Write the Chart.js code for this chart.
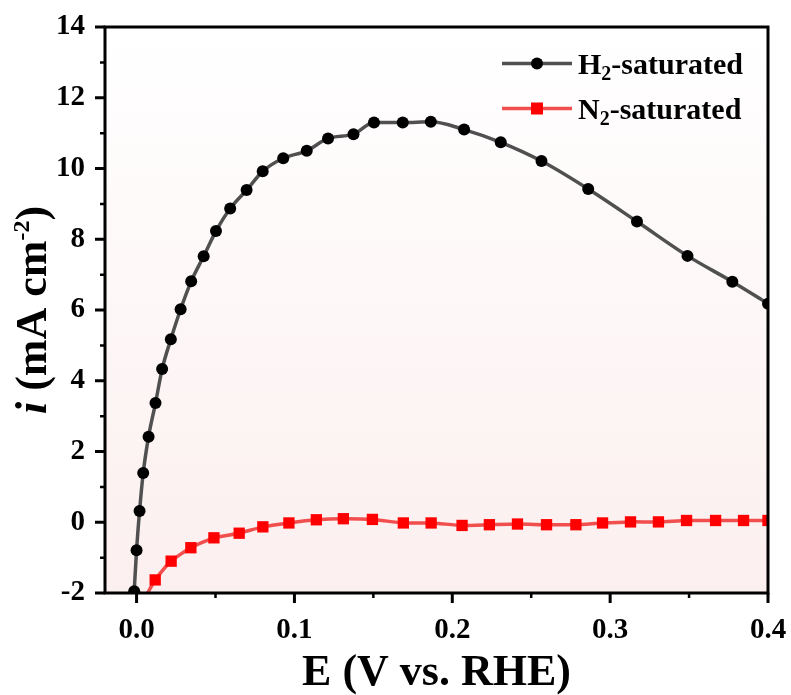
<!DOCTYPE html>
<html lang="en">
<head>
<meta charset="UTF-8">
<title>H2 / N2 saturated polarization</title>
<script src="https://cdn.jsdelivr.net/npm/chart.js"></script>
<style>
  body { margin: 0; background: #fff; }
  #wrap { width: 791px; height: 695px; }
</style>
</head>
<body>
<div id="wrap"><canvas id="myChart" width="791" height="695"></canvas></div>
<script>
// H2-saturated curve (E in V vs RHE, i in mA cm-2)
const h2X = [-0.0015, 0.0, 0.0019, 0.0042, 0.0076, 0.012, 0.0162, 0.0217, 0.0279, 0.0346,
             0.0425, 0.0503, 0.0593, 0.0697, 0.0799, 0.0929, 0.1078, 0.1213, 0.1374, 0.1504,
             0.1686, 0.1864, 0.2075, 0.2307, 0.2565, 0.2861, 0.317, 0.349, 0.3774, 0.4];
const h2Y = [-1.95, -0.79, 0.32, 1.39, 2.42, 3.37, 4.33, 5.17, 6.02, 6.81,
             7.52, 8.23, 8.87, 9.39, 9.92, 10.29, 10.50, 10.85, 10.97, 11.30,
             11.30, 11.32, 11.10, 10.74, 10.21, 9.42, 8.50, 7.53, 6.80, 6.18];

// N2-saturated curve (first point is where the line enters the plot, no marker)
const n2X = [0.007, 0.0118, 0.0219, 0.0344, 0.049, 0.065, 0.080, 0.0965, 0.1139, 0.131,
             0.1494, 0.169, 0.1866, 0.2062, 0.2235, 0.2413, 0.2597, 0.2783, 0.2952, 0.3129,
             0.3306, 0.3484, 0.3668, 0.3845, 0.4];
const n2Y = [-2.0, -1.63, -1.10, -0.72, -0.44, -0.31, -0.13, -0.02, 0.07, 0.10,
             0.08, -0.02, -0.02, -0.09, -0.07, -0.05, -0.07, -0.07, -0.02, 0.01,
             0.01, 0.05, 0.05, 0.05, 0.05];

const xTicks = [0, 0.1, 0.2, 0.3, 0.4];
const xMinorTicks = [0.05, 0.15, 0.25, 0.35];
const yTicks = [-2, 0, 2, 4, 6, 8, 10, 12, 14];
const yMinorTicks = [-1, 1, 3, 5, 7, 9, 11, 13];

const seriesLabels = [['H', '2', '-saturated'], ['N', '2', '-saturated']];

const SERIF = "'Liberation Serif', 'Times New Roman', serif";
Chart.defaults.font.family = SERIF;
Chart.defaults.color = '#000';

// background: white canvas + faint pink gradient in plot area
const bgPlugin = {
    id: 'bg',
    beforeDraw(chart) {
        const {ctx, chartArea: a} = chart;
        ctx.save();
        ctx.fillStyle = '#fff';
        ctx.fillRect(0, 0, chart.width, chart.height);
        const g = ctx.createLinearGradient(0, a.top, 0, a.bottom);
        g.addColorStop(0, '#ffffff');
        g.addColorStop(1, '#fcefef');
        ctx.fillStyle = g;
        ctx.fillRect(a.left, a.top, a.right - a.left, a.bottom - a.top);
        ctx.restore();
    }
};

// frame, tick marks, axis titles, legend
const decoPlugin = {
    id: 'deco',
    afterDatasetsDraw(chart) {
        const {ctx, chartArea: a, scales} = chart;
        ctx.save();
        ctx.strokeStyle = '#000';
        ctx.lineWidth = 3;
        ctx.strokeRect(a.left, a.top, a.right - a.left, a.bottom - a.top);
        const marks = (vals, len) => {
            ctx.beginPath();
            vals.x.forEach(v => {
                const px = scales.x.getPixelForValue(v);
                ctx.moveTo(px, a.bottom);
                ctx.lineTo(px, a.bottom + len);
            });
            vals.y.forEach(v => {
                const py = scales.y.getPixelForValue(v);
                ctx.moveTo(a.left, py);
                ctx.lineTo(a.left - len, py);
            });
            ctx.stroke();
        };
        ctx.lineWidth = 3;
        marks({x: xTicks, y: yTicks}, 10);
        ctx.lineWidth = 2.5;
        marks({x: xMinorTicks, y: yMinorTicks}, 5);
        ctx.restore();
    },
    afterDraw(chart) {
        const {ctx, chartArea: a} = chart;
        ctx.save();
        ctx.fillStyle = '#000';
        ctx.textBaseline = 'alphabetic';

        // x title
        ctx.font = 'bold 44px ' + SERIF;
        ctx.textAlign = 'center';
        ctx.fillText('E (V vs. RHE)', (a.left + a.right) / 2, 685);

        // y title, rotated, with italic i and superscript
        const parts = [
            {t: 'i', f: 'italic bold 44px ' + SERIF, dy: 0},
            {t: ' (mA cm', f: 'bold 44px ' + SERIF, dy: 0},
            {t: '-2', f: 'bold 24px ' + SERIF, dy: -17},
            {t: ')', f: 'bold 44px ' + SERIF, dy: 0}
        ];
        ctx.textAlign = 'left';
        let total = 0;
        parts.forEach(p => { ctx.font = p.f; p.w = ctx.measureText(p.t).width; total += p.w; });
        ctx.translate(46, (a.top + a.bottom) / 2);
        ctx.rotate(-Math.PI / 2);
        let cx = -total / 2;
        parts.forEach(p => { ctx.font = p.f; ctx.fillText(p.t, cx, p.dy); cx += p.w; });
        ctx.restore();

        // legend
        ctx.save();
        const rows = [
            {y: 63.5, line: '#505050', mark: 'circle', fill: '#000'},
            {y: 108.5, line: 'rgba(240,60,60,0.9)', mark: 'rect', fill: '#ff0000'}
        ];
        rows.forEach((r, i) => {
            ctx.strokeStyle = r.line;
            ctx.lineWidth = 3.5;
            ctx.beginPath();
            ctx.moveTo(502, r.y);
            ctx.lineTo(572, r.y);
            ctx.stroke();
            ctx.fillStyle = r.fill;
            if (r.mark === 'circle') {
                ctx.beginPath();
                ctx.arc(537, r.y, 6, 0, Math.PI * 2);
                ctx.fill();
            } else {
                ctx.fillRect(531, r.y - 6, 12, 12);
            }
            const [a1, sub, rest] = seriesLabels[i];
            const base = r.y + 10;
            ctx.fillStyle = '#000';
            ctx.textAlign = 'left';
            let x = 578;
            ctx.font = 'bold 30px ' + SERIF;
            ctx.fillText(a1, x, base);
            x += ctx.measureText(a1).width;
            ctx.font = 'bold 20px ' + SERIF;
            ctx.fillText(sub, x, base + 6);
            x += ctx.measureText(sub).width;
            ctx.font = 'bold 30px ' + SERIF;
            ctx.fillText(rest, x, base);
        });
        ctx.restore();
    }
};

const ctx = document.getElementById('myChart').getContext('2d');
window.myChart = new Chart(ctx, {
    type: 'line',
    data: {
        datasets: [
            {
                label: 'N2-saturated',
                data: n2X.map((x, i) => ({x: x, y: n2Y[i]})),
                borderColor: 'rgba(240,60,60,0.9)',
                borderWidth: 3.5,
                pointStyle: 'rect',
                pointRadius: n2X.map((_, i) => i === 0 ? 0 : 8),
                pointBackgroundColor: '#ff0000',
                pointBorderWidth: 0,
                tension: 0.2,
                clip: 0
            },
            {
                label: 'H2-saturated',
                data: h2X.map((x, i) => ({x: x, y: h2Y[i]})),
                borderColor: '#505050',
                borderWidth: 3.5,
                pointStyle: 'circle',
                pointRadius: 6,
                pointBackgroundColor: '#000',
                pointBorderColor: '#000',
                pointBorderWidth: 0,
                cubicInterpolationMode: 'monotone',
                clip: 0
            }
        ]
    },
    options: {
        responsive: false,
        animation: false,
        layout: { padding: { left: 0, top: 27, right: 23, bottom: 0 } },
        plugins: { legend: { display: false }, tooltip: { enabled: false } },
        scales: {
            x: {
                type: 'linear',
                min: -0.02,
                max: 0.4,
                afterBuildTicks: s => { s.ticks = xTicks.map(v => ({value: v})); },
                afterFit: s => { s.height = 102; s.paddingLeft = 0; s.paddingRight = 0; },
                grid: { display: true, drawOnChartArea: false, drawTicks: true, tickLength: 10, color: 'rgba(0,0,0,0)' },
                border: { display: false },
                ticks: {
                    padding: 10,
                    font: { size: 29, weight: 'bold' },
                    callback: v => Number(v).toFixed(1)
                }
            },
            y: {
                min: -2,
                max: 14,
                afterBuildTicks: s => { s.ticks = yTicks.map(v => ({value: v})); },
                afterFit: s => { s.width = 105; s.paddingTop = 0; s.paddingBottom = 0; },
                grid: { display: true, drawOnChartArea: false, drawTicks: true, tickLength: 10, color: 'rgba(0,0,0,0)' },
                border: { display: false },
                ticks: {
                    padding: 10,
                    font: { size: 29, weight: 'bold' },
                    callback: v => v
                }
            }
        }
    },
    plugins: [bgPlugin, decoPlugin]
});
</script>
</body>
</html>
